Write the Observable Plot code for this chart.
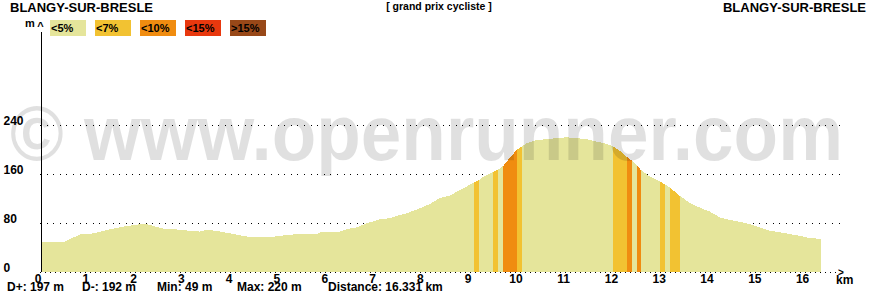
<!DOCTYPE html>
<html><head><meta charset="utf-8">
<script src="https://cdn.jsdelivr.net/npm/d3@7"></script>
<script src="https://cdn.jsdelivr.net/npm/@observablehq/plot@0.6"></script>
<style>
body{margin:0;background:#fff;}
#wrap{position:relative;width:880px;height:300px;overflow:hidden}
</style></head><body><div id="wrap"></div>
<script>
// ---- data ----
const km = [0,0.48,0.65,0.86,1.10,1.38,1.80,2.08,2.22,2.50,2.64,2.99,3.13,3.34,3.48,3.69,3.90,4.17,4.38,4.86,4.94,5.15,5.36,5.78,5.85,6.27,6.41,6.62,6.82,7.10,7.31,7.52,7.66,7.87,8.15,8.36,8.57,8.78,9.07,9.17,9.26,9.47,9.57,9.68,9.75,9.97,10.07,10.17,10.38,10.73,11.01,11.43,11.64,11.85,11.98,12.12,12.27,12.37,12.48,12.56,12.75,12.96,13.07,13.17,13.38,13.59,13.80,14.01,14.22,14.43,14.63,14.84,15.05,15.26,15.47,15.68,15.89,16.10,16.331];
const elev = [49,49,55,62,63,68.5,75,78,78.5,72,70,69,67,66,69,67,64,60,57,57,59,60,62,62,65,66,70,73,79.5,86,88,93,96,102,111,121,125,134,146,150,155,163,167,173,180,200,205,210,215.5,218,220,217,213,209,205,198,188,182,174,167,156,148,143,138,124,113,105,98.5,89,85,82,78,73,67.5,65,62,59,55.5,54];
const bandStart = [9.07,9.47,9.68,9.97,11.98,12.27,12.48,12.96,13.17];
const bandEnd   = [9.17,9.57,9.97,10.07,12.27,12.37,12.56,13.07,13.38];
const bandClass = ["<7%","<7%","<10%","<7%","<7%","<10%","<10%","<7%","<7%"];
const classes = ["<5%","<7%","<10%","<15%",">15%"];
const classColors = ["#e5e59b","#f2c232","#f08c10","#e8380e","#984818"];
const xTicks = [0,1,2,3,4,5,6,7,8,9,10,11,12,13,14,15,16];
const yTicks = [0,80,160,240];
const gridValues = [80,160,240];
const startName = "BLANGY-SUR-BRESLE";
const endName = "BLANGY-SUR-BRESLE";
const subtitle = "[ grand prix cycliste ]";
const statLabels = ["D+: 197 m","D-: 192 m","Min: 49 m","Max: 220 m","Distance: 16.331 km"];
const watermark = "© www.openrunner.com";

// ---- build ----
const profile = km.map((k,i)=>({km:k, elev:elev[i]}));
const bandRows = bandStart.flatMap((s,b)=>profile
  .filter(p=>p.km>=s-1e-9 && p.km<=bandEnd[b]+1e-9)
  .map(p=>({...p, band:b, cls:bandClass[b]})));

const FONT = "'Liberation Sans', Arial, sans-serif";
const svg = Plot.plot({
  width: 880, height: 300,
  marginLeft: 40, marginRight: 40, marginTop: 32, marginBottom: 28,
  x: {domain:[0,16.73], range:[40.5,840], label:null},
  y: {domain:[0,392], range:[272,32], label:null},
  color: {domain: classes, range: classColors},
  style: {fontFamily: FONT, fontSize:"12px", fontWeight:"bold", background:"#fff", color:"#000", overflow:"visible"},
  marks: [
    Plot.ruleY(gridValues, {stroke:"#000", strokeDasharray:"1,5.6", shapeRendering:"crispEdges"}),
    Plot.ruleY([0], {stroke:"#000", strokeDasharray:"1,4", shapeRendering:"crispEdges"}),
    Plot.areaY(profile, {x:"km", y1:0, y2:"elev", fill: classColors[0], shapeRendering:"crispEdges"}),
    Plot.areaY(bandRows, {x:"km", y1:0, y2:"elev", z:"band", fill:"cls", shapeRendering:"crispEdges"}),
    Plot.ruleX([0], {stroke:"#000", shapeRendering:"crispEdges"}),
    Plot.axisX(xTicks, {anchor:"bottom", tickSize:0, tickPadding:0, dy:1.5, dx:-3, fontWeight:"bold", fontSize:12, tickFormat:d=>String(d), label:null}),
    Plot.axisY(yTicks, {anchor:"left", tickSize:0, tickPadding:0, textAnchor:"start", dx:-37, dy:-4, fontWeight:"bold", fontSize:12, tickFormat:d=>String(d), label:null})
  ]
});
document.getElementById("wrap").appendChild(svg);

const s = d3.select(svg);
// watermark (drawn over the profile, semi-transparent)
s.append("text").attr("x",10).attr("y",160).attr("text-anchor","start")
  .attr("font-family",FONT).attr("font-weight","bold")
  .attr("font-size",78).attr("textLength",833).attr("lengthAdjust","spacingAndGlyphs")
  .attr("fill","#000").attr("fill-opacity",0.12).text(watermark);

const g = s.append("g").attr("font-family", FONT).attr("font-weight","bold").attr("fill","#000");
function txt(t, x, y, size, anchor="start"){
  return g.append("text").attr("x",x).attr("y",y).attr("font-size",size).attr("text-anchor",anchor).text(t);
}
txt(startName, 10, 11.5, 13);
txt(endName, 866, 11.5, 13, "end");
txt(subtitle, 439, 10, 10.5, "middle");
txt("m", 25, 27, 11);
txt("^", 40.5, 30, 11, "middle");
txt("km", 836, 284, 12);
txt(">", 838, 276, 10);
// legend
classes.forEach((c,i)=>{
  g.append("rect").attr("x",50+45*i).attr("y",20).attr("width",36).attr("height",16).attr("fill",classColors[i]);
  txt(c, 51+45*i, 32, 11);
});
// stats
const statX = [7,82,157,237,328];
statLabels.forEach((t,i)=>txt(t, statX[i], 291, 12));
</script></body></html>
